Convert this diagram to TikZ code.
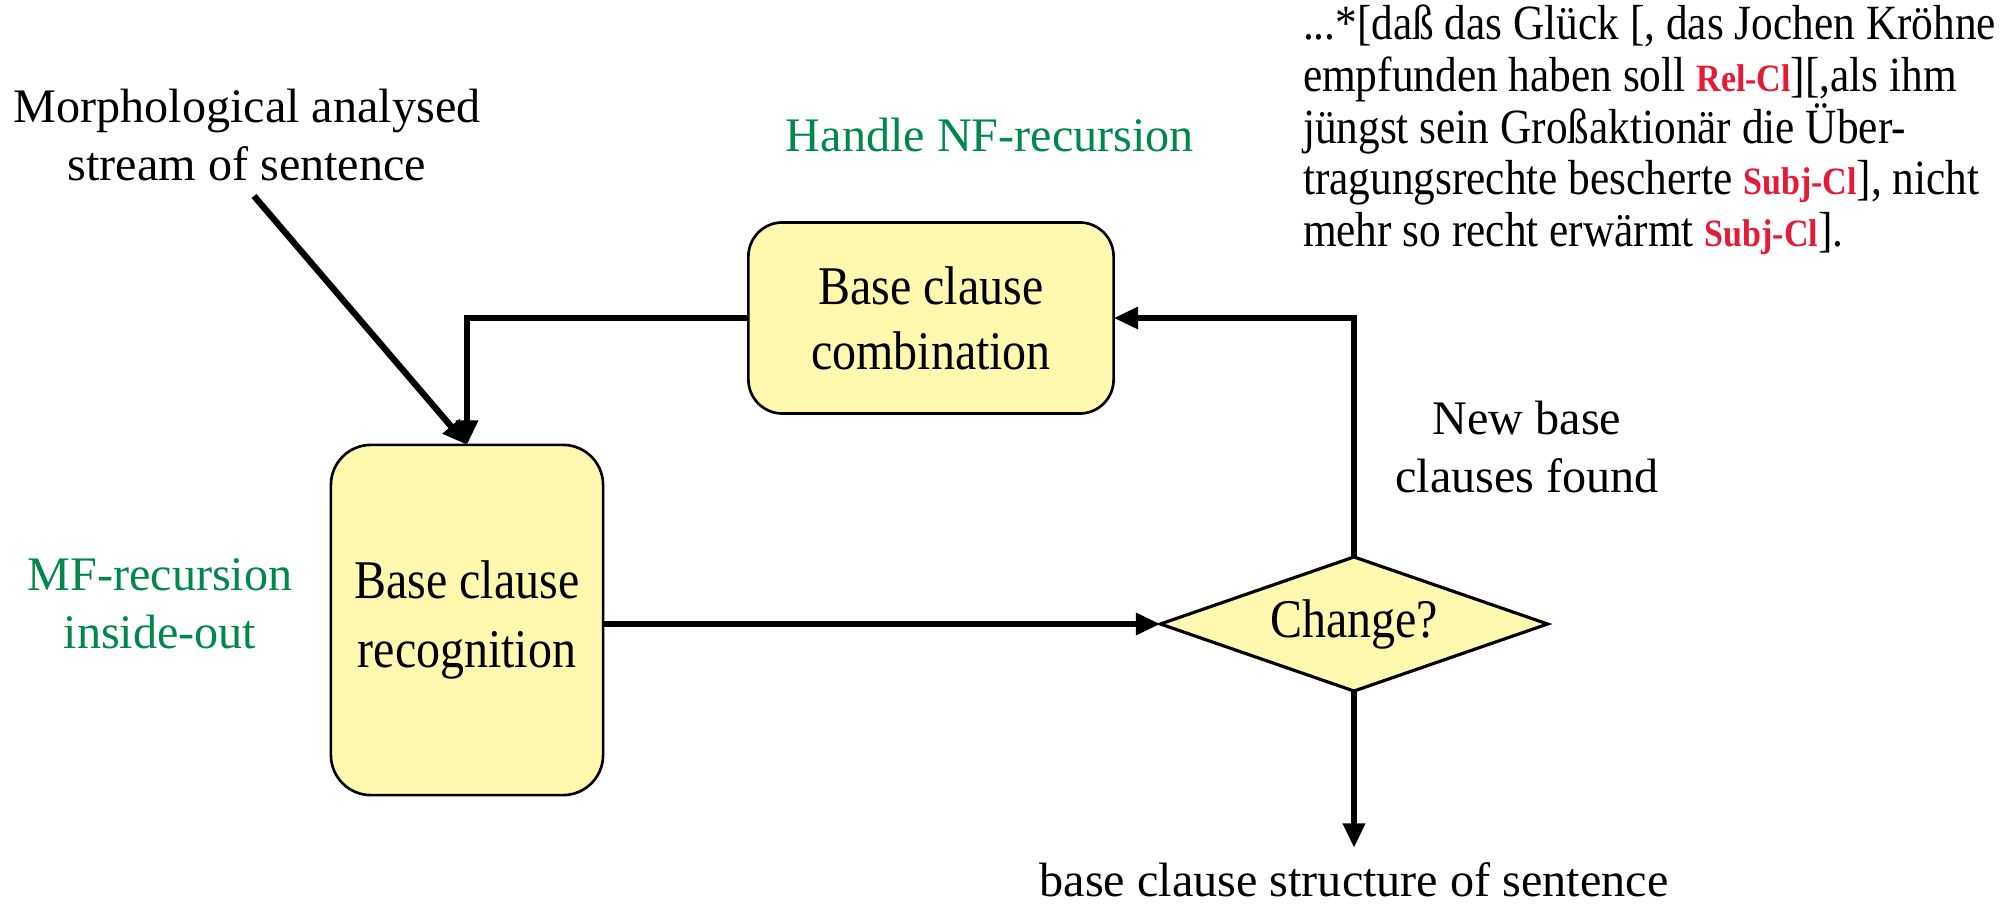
\documentclass[tikz,border=0pt]{standalone}
\usepackage{fontspec}
\setmainfont{Liberation Serif}
\newfontfamily\narrowserif[FakeStretch=0.88]{Liberation Serif}
\usetikzlibrary{shapes.geometric,arrows.meta}
\definecolor{boxfill}{RGB}{255,248,175}
\definecolor{notegreen}{RGB}{0,135,75}
\definecolor{tagred}{RGB}{230,25,55}
\newcommand{\cltag}[1]{{\fontsize{11}{12}\selectfont\bfseries\color{tagred}#1}}
\tikzset{
  every node/.style={inner sep=0pt, outer sep=0pt},
  label/.style={align=center, font=\fontsize{13.7}{16.5}\selectfont},
  greenlabel/.style={label, text=notegreen},
  procbox/.style={draw=black, line width=0.75pt, fill=boxfill, rounded corners=0.34cm,
                  align=center, font=\narrowserif\fontsize{15.5}{16.5}\selectfont},
  decision/.style={draw=black, line width=0.9pt, fill=boxfill, shape=diamond,
                   aspect=2.89, minimum width=3.87cm, minimum height=1.34cm,
                   font=\narrowserif\fontsize{15.5}{16.5}\selectfont},
  flow/.style={draw=black, line width=1.8pt, -{Triangle[length=7pt,width=6pt]}},
}
\begin{document}
\begin{tikzpicture}[x=0.01cm, y=-0.01cm]
  \useasboundingbox (0,0) rectangle (2011,906);

  % process boxes and decision
  \node[procbox, minimum width=3.65cm, minimum height=1.91cm] (combo) at (931,318)
    {Base clause\\[2pt]combination};
  \node[procbox, minimum width=2.72cm, minimum height=3.50cm, rounded corners=0.4cm] (recog) at (467,620)
    {Base clause\\[3pt]recognition};
  \node[decision] (change) at (1354,624) {Change?};

  % labels
  \node[label] (input) at (247,135) {Morphological analysed\\stream of sentence};
  \node[greenlabel] (nf) at (990,135) {Handle NF-recursion};
  \node[greenlabel] (mf) at (160,604) {MF-recursion\\inside-out};
  \node[label] (newbc) at (1527,447) {New base\\clauses found};
  \node[label] (output) at (1354,880) {base clause structure of sentence};

  % example sentence
  \node[anchor=north west, align=left, font=\narrowserif\fontsize{14}{14.7}\selectfont] (example) at (1303,5)
    {...*[daß das Glück [, das Jochen Kröhne\\
     empfunden haben soll \cltag{Rel-Cl}][,als ihm\\
     jüngst sein Großaktionär die Über-\\
     tragungsrechte bescherte \cltag{Subj-Cl}], nicht\\
     mehr so recht erwärmt \cltag{Subj-Cl}].};

  % connectors
  \coordinate (instart) at (254,196);
  \coordinate (outend) at (1354,848);
  \draw[flow] (instart) -- (recog.north);
  \draw[flow] (combo.west) -| (recog.north);
  \draw[flow] (recog.east |- change.west) -- (change.west);
  \draw[flow] (change.north) |- (combo.east);
  \draw[flow] (change.south) -- (outend);
\end{tikzpicture}
\end{document}
